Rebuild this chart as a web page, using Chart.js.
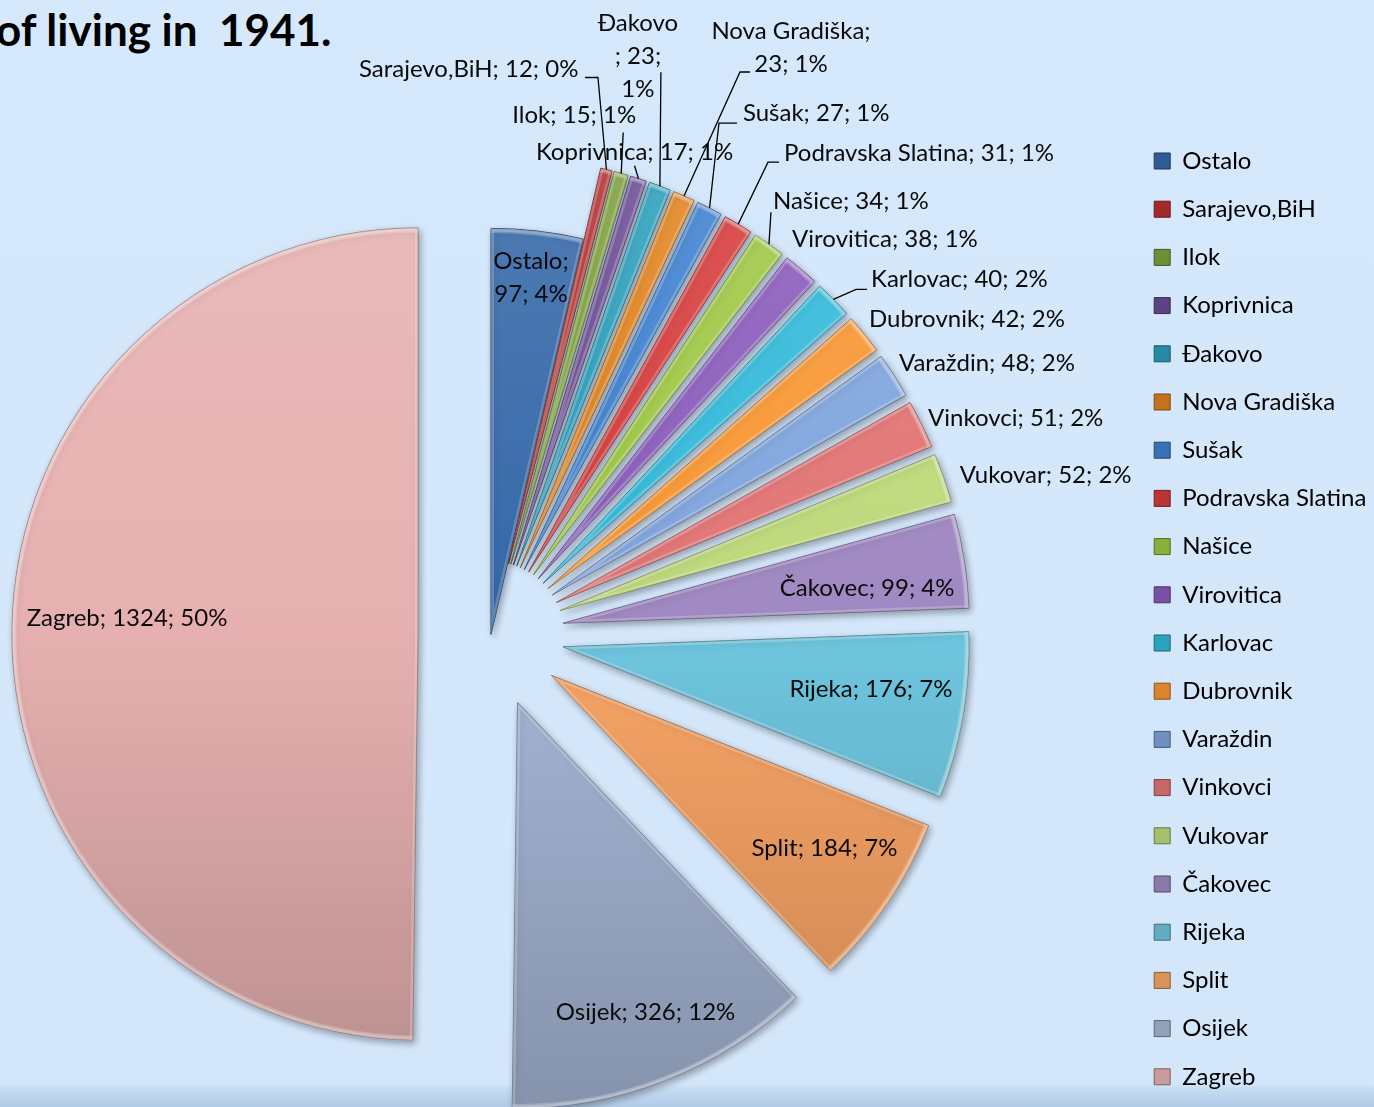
<!DOCTYPE html>
<html><head><meta charset="utf-8">
<script src="https://cdn.jsdelivr.net/npm/chart.js@4.4.1/dist/chart.umd.min.js"></script>
<style>
html,body{margin:0;padding:0;width:1374px;height:1107px;overflow:hidden;}
body{position:relative;background:linear-gradient(to bottom,#D6E8FB 0px,#D3E6FA 1084px,#C4DAF0 1090px,#B2CBE7 1107px);}
#title{position:absolute;left:-4px;top:7px;font:bold 44px Lato,sans-serif;line-height:44px;white-space:pre;color:#000;}
#wrap{position:absolute;left:-148px;top:0;}
</style></head><body>
<div id="title"></div>
<div id="wrap"><canvas id="c" width="1562" height="1144"></canvas></div>
<script>
// ---- data ----
const titleText = 'of living in  1941.';
const categories = ['Ostalo','Sarajevo,BiH','Ilok','Koprivnica','Đakovo','Nova Gradiška','Sušak','Podravska Slatina','Našice','Virovitica','Karlovac','Dubrovnik','Varaždin','Vinkovci','Vukovar','Čakovec','Rijeka','Split','Osijek','Zagreb'];
const residents = [97,12,15,17,23,23,27,31,34,38,40,42,48,51,52,99,176,184,326,1324];

// ---- style ----
const sliceColors = ['#3467A8','#B83030','#7EA23C','#6B4C96','#2A9EBB','#E2821E','#3D80D0','#D63B3B','#9DC743','#8A5BBB','#31B9D9','#F89632','#7FA4DD','#E27474','#BDD97A','#A088C2','#6EC6DE','#F9A566','#A6B6D6','#E6B0B0'];
const RADIUS = 406;
const EXPLODE = 73;
const explodeOf = name => name === 'Ostalo' ? 0 : EXPLODE;
const LABEL_FONT = '24px Lato';
const LINE_GAP = 33;
// label placement: anchor 'apex' (slice tip) or 'rim' (outer middle), offsets, alignment, wrap, leader polyline (relative to rim)
const LABEL_LAYOUT = {
  'Ostalo':            {anchor:'apex', dx:40,   dy:-357, align:'center', wrap:2},
  'Sarajevo,BiH':      {anchor:'rim',  dx:-28,  dy:-100, align:'right', leader:[[0,0],[-8.5,-92],[-21.5,-92]]},
  'Ilok':              {anchor:'rim',  dx:-47,  dy:-58,  align:'center', leader:[[0,0],[2,-41]]},
  'Koprivnica':        {anchor:'rim',  dx:-4,   dy:-26,  align:'center', leader:[[0,0],[-4,-13]]},
  'Đakovo':            {anchor:'rim',  dx:-22,  dy:-130, align:'center', wrap:3, leader:[[0,0],[1,-114]]},
  'Nova Gradiška':     {anchor:'rim',  dx:107,  dy:-148.5, align:'center', wrap:2, leader:[[0,0],[56,-124],[66,-124]]},
  'Sušak':             {anchor:'rim',  dx:33.4, dy:-95,  align:'left', leader:[[0,0],[9.4,-85],[27.4,-85]]},
  'Podravska Slatina': {anchor:'rim',  dx:45.8, dy:-71,  align:'left', leader:[[0,0],[29.8,-62],[40.8,-62]]},
  'Našice':            {anchor:'rim',  dx:4,    dy:-43,  align:'left', leader:[[0,0],[2,-32]]},
  'Virovitica':        {anchor:'rim',  dx:-9,   dy:-30,  align:'left'},
  'Karlovac':          {anchor:'rim',  dx:37.7, dy:-20,  align:'left', leader:[[0,0],[22.7,-10],[33.7,-10]]},
  'Dubrovnik':         {anchor:'rim',  dx:4.8,  dy:-15,  align:'left'},
  'Varaždin':          {anchor:'rim',  dx:5,    dy:-12,  align:'left'},
  'Vinkovci':          {anchor:'rim',  dx:6.6,  dy:-6,   align:'left'},
  'Vukovar':           {anchor:'rim',  dx:16,   dy:-3,   align:'left'},
  'Čakovec':           {anchor:'apex', dx:304,  dy:-35,  align:'center'},
  'Rijeka':            {anchor:'apex', dx:308,  dy:42,   align:'center'},
  'Split':             {anchor:'apex', dx:273,  dy:173,  align:'center'},
  'Osijek':            {anchor:'apex', dx:128,  dy:310,  align:'center'},
  'Zagreb':            {anchor:'apex', dx:-291, dy:-16,  align:'center'}
};

document.getElementById('title').textContent = titleText;

function mix(hex, target, t){
  const a = parseInt(hex.slice(1),16), b = parseInt(target.slice(1),16);
  const ch = (v,s)=> (v>>s)&255;
  const r = Math.round(ch(a,16)*(1-t)+ch(b,16)*t), g = Math.round(ch(a,8)*(1-t)+ch(b,8)*t), bl = Math.round(ch(a,0)*(1-t)+ch(b,0)*t);
  return 'rgb('+r+','+g+','+bl+')';
}

const total = residents.reduce((s,v)=>s+v,0);
const pct = v => Math.round(v/total*100);

// legend geometry
const LEG_FONT = 24, LEG_BOX = 16, LEG_PAD = 24.2;
const CANVAS_SHIFT = 148, CANVAS_W = 1562, PIE_CX = 491;
const mctx = document.createElement('canvas').getContext('2d');
mctx.font = 'normal ' + LEG_FONT + 'px Lato';
const maxText = Math.max(...categories.map(c => mctx.measureText(c).width));
const legendW = LEG_PAD + LEG_BOX + LEG_FONT/2 + maxText + 10;
const chartRight = 2*(PIE_CX + CANVAS_SHIFT);
const rightPad = Math.max(0, CANVAS_W - chartRight - legendW);

function fillFn(ctx){
  const base = sliceColors[ctx.dataIndex];
  const ca = ctx.chart.chartArea;
  if(!ca || ctx.dataIndex === undefined) return base;
  const cy = (ca.top + ca.bottom)/2;
  const g = ctx.chart.ctx.createLinearGradient(0, cy-RADIUS-EXPLODE, 0, cy+RADIUS+EXPLODE);
  g.addColorStop(0, mix(base,'#FFFFFF',0.14));
  g.addColorStop(0.5, base);
  g.addColorStop(1, mix(base,'#000000',0.2));
  return g;
}

const explodePlugin = {
  id:'explode',
  afterDatasetsUpdate(chart){
    const meta = chart.getDatasetMeta(0);
    meta.data.forEach((arc,i)=>{
      const mid = (arc.startAngle + arc.endAngle)/2;
      const d = explodeOf(categories[i]);
      arc.x += Math.cos(mid)*d;
      arc.y += Math.sin(mid)*d;
    });
  }
};

const shadowPlugin = {
  id:'shade',
  beforeDatasetsDraw(chart){
    const c = chart.ctx; c.save();
    c.shadowColor = 'rgba(0,0,0,0.33)'; c.shadowBlur = 7; c.shadowOffsetX = 2; c.shadowOffsetY = 3;
  },
  afterDatasetsDraw(chart){ chart.ctx.restore(); }
};

const decorPlugin = {
  id:'decor',
  afterDatasetsDraw(chart){
    const c = chart.ctx;
    const meta = chart.getDatasetMeta(0);
    // bevel highlight
    meta.data.forEach((arc)=>{
      const {x,y,startAngle,endAngle,outerRadius} = arc;
      c.save();
      c.beginPath(); c.moveTo(x,y); c.arc(x,y,outerRadius,startAngle,endAngle); c.closePath();
      c.clip();
      c.lineJoin = 'round';
      c.lineWidth = 6; c.strokeStyle = 'rgba(255,255,255,0.22)'; c.stroke();
      c.beginPath(); c.arc(x,y,outerRadius,startAngle,endAngle);
      c.lineWidth = 9; c.strokeStyle = 'rgba(255,255,255,0.22)'; c.stroke();
      c.restore();
    });
    // labels
    c.save();
    c.font = LABEL_FONT; c.fillStyle = '#0A0A0A'; c.textBaseline = 'middle';
    c.strokeStyle = '#000'; c.lineWidth = 1.3;
    meta.data.forEach((arc,i)=>{
      const name = categories[i], v = residents[i], p = pct(v);
      const L = LABEL_LAYOUT[name];
      const mid = (arc.startAngle + arc.endAngle)/2;
      const rim = [arc.x + Math.cos(mid)*arc.outerRadius, arc.y + Math.sin(mid)*arc.outerRadius];
      const base = L.anchor === 'rim' ? rim : [arc.x, arc.y];
      let lines;
      if (L.wrap === 2) lines = [name + ';', v + '; ' + p + '%'];
      else if (L.wrap === 3) lines = [name, '; ' + v + ';', p + '%'];
      else lines = [name + '; ' + v + '; ' + p + '%'];
      if (L.leader){
        c.beginPath();
        L.leader.forEach((pt,k)=>{ const px = rim[0]+pt[0], py = rim[1]+pt[1]; k ? c.lineTo(px,py) : c.moveTo(px,py); });
        c.stroke();
      }
      c.textAlign = L.align;
      const ax = base[0] + L.dx, ay = base[1] + L.dy;
      lines.forEach((t,k)=>{
        c.fillText(t, ax, ay + (k - (lines.length-1)/2)*LINE_GAP);
      });
    });
    c.restore();
  }
};

new Chart(document.getElementById('c'), {
  type:'pie',
  data:{
    labels: categories,
    datasets:[{
      data: residents,
      backgroundColor: fillFn,
      borderColor: sliceColors.map(col => mix(col,'#000000',0.35)),
      borderWidth: 1,
      offset: 0,
      radius: RADIUS,
      clip: false
    }]
  },
  options:{
    responsive:false,
    animation:false,
    devicePixelRatio:1,
    radius: RADIUS,
    events: [],
    layout:{padding:{top:124.8, bottom:0, left:0, right:rightPad}},
    plugins:{
      tooltip:{enabled:false},
      title:{display:false},
      legend:{
        position:'right',
        align:'start',
        labels:{
          font:{family:'Lato', size:LEG_FONT},
          color:'#000',
          boxWidth:LEG_BOX,
          boxHeight:LEG_BOX,
          padding:LEG_PAD,
          generateLabels(chart){
            return chart.data.labels.map((l,i)=>({
              text:l,
              fillStyle: mix(sliceColors[i],'#000000',0.12),
              strokeStyle: mix(sliceColors[i],'#000000',0.45),
              lineWidth:1,
              hidden:false,
              index:i,
              fontColor:'#000'
            }));
          }
        }
      }
    }
  },
  plugins:[explodePlugin, shadowPlugin, decorPlugin]
});
</script>
</body></html>
